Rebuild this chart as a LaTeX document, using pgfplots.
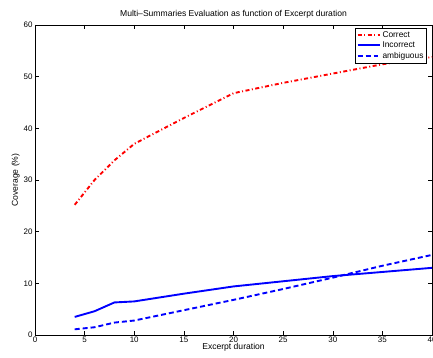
\documentclass[border=0pt]{standalone}
\usepackage{pgfplots}
\pgfplotsset{compat=1.18}
\usepackage{fontspec}
\setmainfont{Liberation Sans}
\begin{document}
\begin{tikzpicture}
\path[use as bounding box] (0,0) rectangle (433bp,358bp);
\begin{axis}[
  at={(35bp,23bp)}, anchor=south west,
  scale only axis, width=397bp, height=310bp,
  xmin=0, xmax=40, ymin=0, ymax=60,
  xtick={0,5,...,40}, ytick={0,10,...,60},
  tick align=inside, major tick length=4bp,
  tick style={black, line width=0.5pt},
  axis line style={line width=0.6pt},
  /pgf/number format/assume math mode=true,
  tick label style={font=\fontsize{8}{9}\selectfont},
  xticklabel style={yshift=1.5bp},
  yticklabel style={xshift=1bp},
  title={Multi--Summaries Evaluation as function of Excerpt duration},
  title style={font=\fontsize{8.6}{9}\selectfont, yshift=-3bp},
  xlabel={Excerpt duration},
  ylabel={Coverage (\%)},
  label style={font=\fontsize{8.6}{9}\selectfont},
  xlabel style={yshift=6bp},
  ylabel style={yshift=-3bp},
  legend style={at={(0.987,0.99)}, anchor=north east, font=\fontsize{8.4}{9}\selectfont,
    draw=black, inner sep=1.2pt, row sep=-1pt, cells={anchor=west}},
  legend image code/.code={\draw[mark repeat=2,mark phase=2,#1] plot coordinates {(0bp,0bp) (11bp,0bp) (22bp,0bp)};},
  legend cell align=left,
]
\addplot[red, line width=1.9pt, dash pattern=on 4pt off 2.5pt on 1pt off 2.5pt] coordinates {
(4,25.2) (6,30) (8,33.8) (10,37) (15,42) (20,46.8) (25,48.8) (30,50.6) (35,52.4) (40,53.8)};
\addlegendentry{Correct}
\addplot[blue, line width=1.9pt] coordinates {
(4,3.5) (6,4.6) (8,6.3) (10,6.5) (15,8) (20,9.4) (25,10.4) (30,11.4) (35,12.2) (40,13.0)};
\addlegendentry{Incorrect}
\addplot[blue, line width=1.9pt, dash pattern=on 5pt off 3pt] coordinates {
(4,1.1) (6,1.5) (8,2.4) (10,2.8) (15,4.8) (20,6.8) (25,8.9) (30,11.1) (35,13.4) (40,15.5)};
\addlegendentry{ambiguous}
\end{axis}
\end{tikzpicture}
\end{document}
